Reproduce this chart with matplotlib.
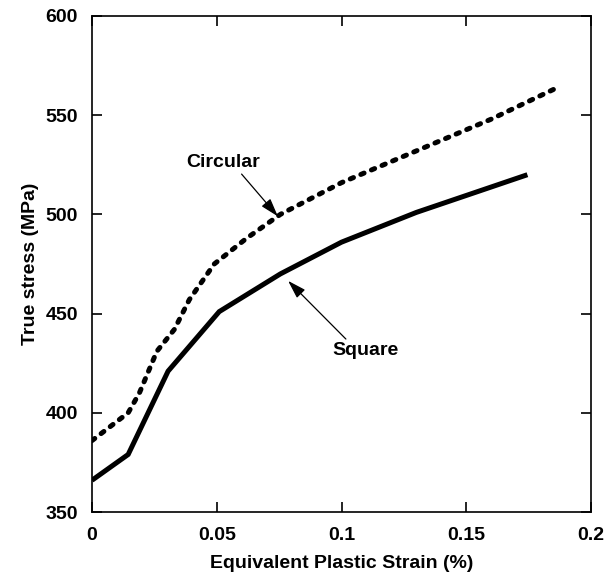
import numpy as np
import matplotlib
matplotlib.use("Agg")
import matplotlib.pyplot as plt

plt.rcParams['font.family'] = ['Liberation Sans', 'DejaVu Sans']
plt.rcParams['font.weight'] = 'bold'

# stress-strain curves for the two cross sections
strain_square = [0.0, 0.0145, 0.0305, 0.051, 0.0755, 0.100, 0.130, 0.1745]
stress_square = [366, 379, 421, 451, 470, 486, 501, 520]

strain_circ = [0.0, 0.0145, 0.019, 0.026, 0.033, 0.039, 0.049, 0.062, 0.0755,
               0.100, 0.130, 0.160, 0.185]
stress_circ = [386, 400, 410, 431, 442, 457, 475, 488, 500,
               516, 532, 548, 563]

xticks = [0, 0.05, 0.1, 0.15, 0.2]
xtick_labels = ['0', '0.05', '0.1', '0.15', '0.2']
yticks = [350, 400, 450, 500, 550, 600]

fig = plt.figure(figsize=(6.04, 5.79), dpi=100)
ax = fig.add_axes([0.1523, 0.1157, 0.8262, 0.8567])

ax.plot(strain_square, stress_square, color='k', lw=3.6,
        solid_joinstyle='miter', solid_capstyle='butt')
ax.plot(strain_circ, stress_circ, color='k', lw=3.6,
        linestyle=(0, (0.7, 1.6)), dash_capstyle='round')

arrow = dict(arrowstyle='-|>,head_length=0.8,head_width=0.25', color='k', lw=0.9,
             shrinkA=0, shrinkB=0)
ax.annotate('Circular', xy=(0.0745, 499), xytext=(0.0525, 526),
            ha='center', va='center', fontsize=14, fontweight='bold',
            arrowprops=dict(arrow, relpos=(0.72, 0.0)))
ax.annotate('Square', xy=(0.0786, 466.5), xytext=(0.1095, 431.5),
            ha='center', va='center', fontsize=14, fontweight='bold',
            arrowprops=dict(arrow, relpos=(0.25, 1.0)))

ax.set_xlim(0, 0.2)
ax.set_ylim(350, 600)
ax.set_xticks(xticks)
ax.set_xticklabels(xtick_labels)
ax.set_yticks(yticks)
ax.tick_params(direction='in', length=7, width=1.2, top=True, right=True,
               labelsize=14)
ax.tick_params(axis='x', pad=11)
ax.tick_params(axis='y', pad=10)
for lab in ax.get_xticklabels() + ax.get_yticklabels():
    lab.set_fontweight('bold')
for sp in ax.spines.values():
    sp.set_linewidth(1.2)

ax.set_xlabel('Equivalent Plastic Strain (%)', fontsize=14, fontweight='bold', labelpad=8)
ax.set_ylabel('True stress (MPa)', fontsize=14, fontweight='bold', labelpad=5)

fig.savefig('out.png', dpi=100)
